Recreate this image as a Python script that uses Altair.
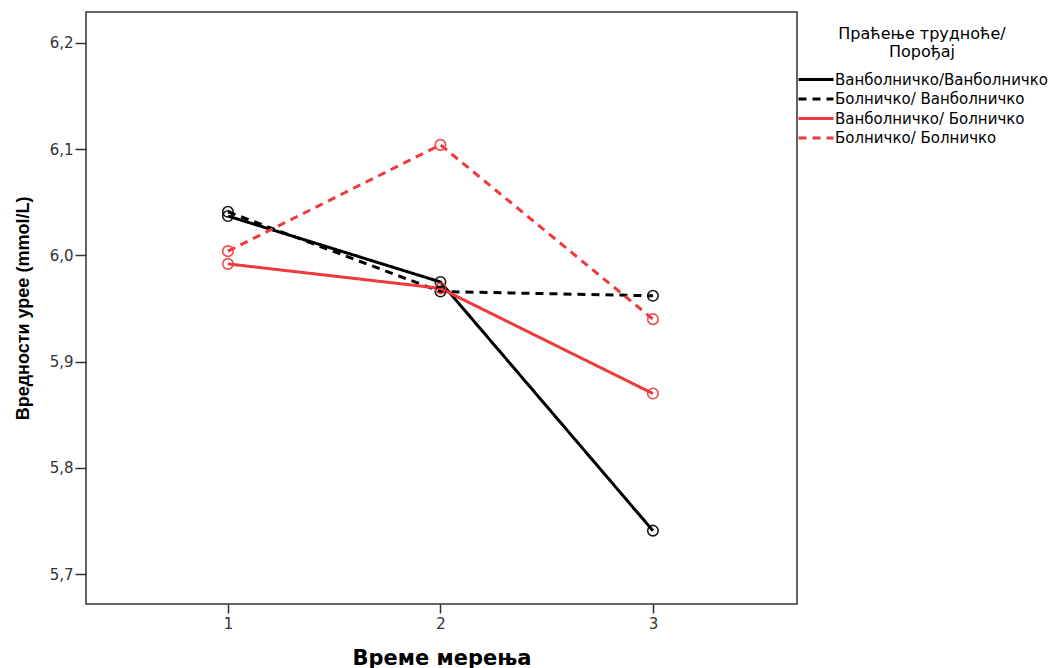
import altair as alt
import pandas as pd

# Measurement times and group means of urea (mmol/L)
times = [1, 2, 3]
groups = [
    "Ванболничко/Ванболничко",
    "Болничко/ Ванболничко",
    "Ванболничко/ Болничко",
    "Болничко/ Болничко",
]
van_van = [6.037, 5.975, 5.741]
bol_van = [6.041, 5.966, 5.962]
van_bol = [5.992, 5.969, 5.870]
bol_bol = [6.004, 6.104, 5.940]

colors = ["#000000", "#000000", "#f0393d", "#f0393d"]
dashes = [[1, 0], [8, 6], [1, 0], [8, 6]]

rows = []
for g, vals in zip(groups, [van_van, bol_van, van_bol, bol_bol]):
    for t, v in zip(times, vals):
        rows.append({"time": t, "value": v, "group": g})
df = pd.DataFrame(rows)

wide = "DejaVu Sans"
narrow = "Liberation Sans"
x = alt.X(
    "time:Q",
    scale=alt.Scale(domain=[0.332, 3.678], nice=False, zero=False),
    axis=alt.Axis(
        values=times, format="d", title="Време мерења", grid=False, domain=False,
        tickSize=9, tickColor="#333333", tickWidth=1.5, labelPadding=3,
        labelFontSize=15, labelColor="#333333", labelFont=wide,
        titleFont=wide, titleFontSize=21, titleFontWeight="bold",
        titlePadding=16, titleColor="#000000",
    ),
)
y = alt.Y(
    "value:Q",
    scale=alt.Scale(domain=[5.672, 6.229], nice=False, zero=False),
    axis=alt.Axis(
        values=[5.7, 5.8, 5.9, 6.0, 6.1, 6.2],
        labelExpr="replace(format(datum.value, '.1f'), '.', ',')",
        title="Вредности урее (mmol/L)", grid=False, domain=False,
        tickSize=11, tickColor="#333333", tickWidth=1.5, labelPadding=2,
        labelFontSize=15, labelColor="#333333", labelFont=wide,
        titleFont=narrow, titleFontSize=18, titleFontWeight="bold",
        titlePadding=17, titleColor="#000000",
    ),
)

color = alt.Color(
    "group:N",
    scale=alt.Scale(domain=groups, range=colors),
    legend=alt.Legend(
        title=["Праћење трудноће/", "Порођај"],
        orient="none", legendX=711, legendY=14,
        symbolType="stroke", symbolSize=1225, symbolStrokeWidth=3,
        clipHeight=17, rowPadding=2.5, labelLimit=400,
        labelFont=wide, labelFontSize=15, labelColor="#000000", labelOffset=0,
        titleFont=wide, titleFontSize=16, titleFontWeight="normal",
        titleColor="#000000", titleAlign="center", titleAnchor="middle",
        titleLineHeight=18, titlePadding=11, titleLimit=400,
    ),
)
dash = alt.StrokeDash(
    "group:N", scale=alt.Scale(domain=groups, range=dashes), legend=None
)

lines = alt.Chart(df).mark_line(strokeWidth=3).encode(
    x=x, y=y, color=color, strokeDash=dash, order="time:Q"
)
points = alt.Chart(df).mark_point(
    shape="circle", size=110, filled=False, strokeWidth=1.6, opacity=0.9
).encode(
    x=x, y=y,
    color=alt.Color("group:N", scale=alt.Scale(domain=groups, range=colors), legend=None),
)

chart = (
    alt.layer(lines, points)
    .properties(
        width=711, height=592,
        autosize=alt.AutoSizeParams(type="none"),
        padding={"left": 86, "top": 12, "right": 260, "bottom": 64},
        background="white",
    )
    .configure_view(stroke="#333333", strokeWidth=1.5)
)

chart.save("out.html", embed_options={"renderer": "svg", "actions": False})
